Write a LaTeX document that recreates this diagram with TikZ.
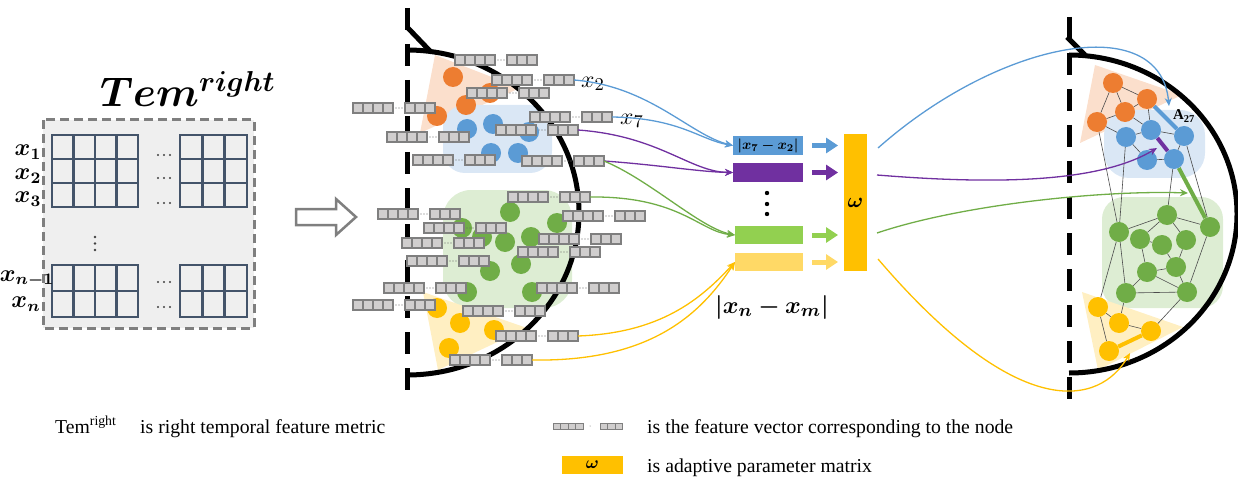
\documentclass[tikz,border=0pt]{standalone}
\usepackage{amsmath}
\usepackage{bm}
\usepackage{fontspec}
\setmainfont{Liberation Serif}
\usetikzlibrary{arrows.meta,calc}
\definecolor{cOr}{HTML}{ED7D31}
\definecolor{cOrL}{HTML}{FBDFCC}
\definecolor{cBl}{HTML}{5B9BD5}
\definecolor{cBlL}{HTML}{DAE7F5}
\definecolor{cGr}{HTML}{70AD47}
\definecolor{cGrL}{HTML}{DDEDD3}
\definecolor{cYe}{HTML}{FFC000}
\definecolor{cYeL}{HTML}{FFEFC2}
\definecolor{cPu}{HTML}{7030A0}
\definecolor{cGrB}{HTML}{92D050}
\definecolor{cYeB}{HTML}{FFD966}
\definecolor{cGrid}{HTML}{44546A}
\definecolor{cBox}{HTML}{EFEFEF}
\definecolor{cSq}{HTML}{D0CECE}
\definecolor{cSqB}{HTML}{7F7F7F}
\newcommand\fv[3]{%
  \foreach \kk in {0,1,2,3} {\filldraw[fvsq] ({#2+\kk*10},{#3-5}) rectangle ++(10,10);}
  \foreach \kk in {0,1,2} {\filldraw[fvsq] ({#2+52+\kk*10},{#3-5}) rectangle ++(10,10);}
  \foreach \kk in {43,46,49} {\fill[black!60] ({#2+\kk},#3) circle[radius=0.7pt];}
  \node[fvbox] (#1) at ({#2+41},#3) {};
}
\newcommand\mgrid[6]{%
  \foreach \ci in {0,...,#3} {\draw[gridl] ({#1+\ci*#5},#2) -- ++(0,{#4*#6});}
  \foreach \ri in {0,...,#4} {\draw[gridl] (#1,{#2+\ri*#6}) -- ++({#3*#5},0);}
}
\begin{document}
\begin{tikzpicture}[x=1pt,y=-1pt,
  fvsq/.style={fill=cSq,draw=cSqB,line width=1.1pt},
  fvbox/.style={minimum width=82pt,minimum height=10pt,inner sep=0pt,outer sep=0pt},
  gridl/.style={draw=cGrid,line width=2.8pt,line cap=rect},
  mdot/.style={circle,minimum size=20pt,inner sep=0pt,fill=#1},
  bar/.style={minimum width=70pt,minimum height=19pt,inner sep=0pt,outer sep=0pt},
  conn/.style={line width=1.3pt,-{Stealth[length=8pt,width=7pt]}},
  fat/.style={line width=5pt,-{Triangle[length=12pt,width=15pt]},shorten <=9pt,shorten >=6pt},
  dashv/.style={line width=5pt,dash pattern=on 22pt off 14pt},
  bound/.style={line width=5pt},
  edge/.style={draw=black!70,line width=0.6pt},
  tedge/.style={line width=4pt},
  xlab/.style={scale=2,font=\fontsize{11.5}{12}\selectfont},
  legend/.style={font=\fontsize{19.7}{22}\selectfont,anchor=base west,inner sep=0pt}
]
\useasboundingbox (0,0) rectangle (1238,481);

% ---------- left: matrix ----------
\node[scale=2] (tem) at (188,89) {\fontsize{19.5}{20}\selectfont$\bm{Tem^{right}}$};
\draw[fill=cBox,draw=cSqB,line width=3pt,dash pattern=on 9pt off 5pt] (43,120) rectangle (254,328);
\mgrid{52}{135}{4}{3}{21.5}{24}
\mgrid{180}{135}{3}{3}{22.33}{24}
\mgrid{52}{265}{4}{2}{21.5}{26}
\mgrid{180}{265}{3}{2}{22.33}{26}
\foreach \yy in {155,178,203,282,307} {\foreach \xx in {158,164,170} {\fill[black!75] (\xx,\yy) circle[radius=1.1pt];}}
\foreach \yy in {237,243.5,250} {\fill[black!75] (95,\yy) circle[radius=1.4pt];}
\node[xlab] (lx1) at (28,152) {$\bm{x_1}$};
\node[xlab] (lx2m) at (28,176) {$\bm{x_2}$};
\node[xlab] (lx3) at (28,199) {$\bm{x_3}$};
\node[xlab] (lxn1) at (27,279) {$\bm{x_{n-1}}$};
\node[xlab] (lxn) at (26,304) {$\bm{x_n}$};

% hollow arrow
\draw[draw=cSqB,fill=white,line width=2.5pt,line join=miter]
  (296,209) -- (336,209) -- (336,199) -- (356,217) -- (336,235) -- (336,225) -- (296,225) -- cycle;

% ---------- middle semicircle ----------
\draw[dashv] (407,8) -- (407,393);
\draw[bound] (407,27) -- (430,51);
\fill[cOrL] (435,55) -- (420,133) -- (520,88) -- cycle;
\fill[cBlL,rounded corners=22pt] (443,105) rectangle (552,173);
\fill[cGrL,rounded corners=28pt] (443,190) rectangle (572,308);
\fill[cYeL] (423,292) -- (438,370) -- (527,328) -- cycle;
\draw[bound] (407,50) arc[start angle=-90,end angle=90,x radius=172,y radius=162.5];

\foreach \xx/\yy [count=\n] in {453/77,490/93,466/105,437/116} {\node[mdot=cOr] (mo\n) at (\xx,\yy) {};}
\foreach \xx/\yy [count=\n] in {467/129,493/124,529/132,491/153,518/153} {\node[mdot=cBl] (mb\n) at (\xx,\yy) {};}
\foreach \xx/\yy [count=\n] in {510/212,557/223,462/228,482/237,505/242,531/237,521/264,490/271,467/292,532/292} {\node[mdot=cGr] (mg\n) at (\xx,\yy) {};}
\foreach \xx/\yy [count=\n] in {437/308,460/323,494/330,449/348} {\node[mdot=cYe] (my\n) at (\xx,\yy) {};}

\fv{v1}{455}{60}
\fv{v2}{492}{80}
\fv{v3}{467}{93}
\fv{v4}{353}{108}
\fv{v5}{530}{117}
\fv{v6}{496}{130}
\fv{v7}{387}{137}
\fv{v8}{413}{160}
\fv{v9}{522}{161}
\fv{v10}{508}{197}
\fv{v12}{378}{214}
\fv{v13}{563}{216}
\fv{v14}{424}{228}
\fv{v15}{402}{243}
\fv{v16}{539}{239}
\fv{v17}{518}{252}
\fv{v18}{407}{261}
\fv{v19}{384}{288}
\fv{v20}{537}{288}
\fv{v21}{353}{305}
\fv{v22}{463}{311}
\fv{v23}{496}{336}
\fv{v24}{450}{360}

% ---------- bars ----------
\node[bar,fill=cBl] (bblue) at (768,145.5) {\scalebox{1.3}{\fontsize{11}{12}\selectfont$\bm{|x_7-x_2|}$}};
\node[bar,fill=cPu] (bpur) at (768,172.5) {};
\node[bar,fill=cGrB,minimum width=68pt,minimum height=18pt] (bgreen) at (769,235) {};
\node[bar,fill=cYeB,minimum width=68pt,minimum height=18pt] (byel) at (769,262) {};
\node[bar,fill=cYe,minimum width=23pt,minimum height=137pt] (omega) at (855.5,202.5) {\fontsize{22}{22}\selectfont$\bm{\omega}$};
\foreach \yy in {193,204,214} {\fill (767,\yy) circle[radius=2.2pt];}
\node[scale=2] (xnm) at (772,307) {\fontsize{13}{13}\selectfont$\bm{|x_n-x_m|}$};
\node[scale=2] (lx2) at (593,84) {\fontsize{13}{13}\selectfont$x_2$};
\node[scale=2] (lx7) at (632,121) {\fontsize{13}{13}\selectfont$x_7$};

\draw[conn,cBl] (v2.east) .. controls (650,86) and (690,135) .. (bblue.west);
\draw[conn,cBl] (v5.east) .. controls (680,118) and (700,140) .. (bblue.west);
\draw[conn,cPu] (v6.east) .. controls (660,136) and (690,172) .. (bpur.west);
\draw[conn,cPu] (v9.east) .. controls (660,165) and (700,172) .. (bpur.west);
\draw[conn,cGr] (v9.east) .. controls (650,180) and (700,228) .. (bgreen.west);
\draw[conn,cGr] (v10.east) .. controls (680,196) and (700,232) .. (bgreen.west);
\draw[conn,cYe] (v23.east) .. controls (660,333) and (700,300) .. (byel.west);
\draw[conn,cYe] (v24.east) .. controls (650,362) and (700,315) .. (byel.west);

\draw[fat,cBl] (bblue.east) -- (omega.west |- bblue.east);
\draw[fat,cPu] (bpur.east) -- (omega.west |- bpur.east);
\draw[fat,cGrB] (bgreen.east) -- (omega.west |- bgreen.east);
\draw[fat,cYeB] (byel.east) -- (omega.west |- byel.east);

% ---------- right semicircle ----------
\draw[dashv] (1069,17) -- (1069,400);
\draw[bound] (1067,37) -- (1085,55);
\fill[cOrL] (1095,65) -- (1080,143) -- (1182,95) -- cycle;
\fill[cBlL,rounded corners=25pt] (1104,110) rectangle (1205,178);
\fill[cGrL,rounded corners=22pt] (1102,197) rectangle (1223,308);
\fill[cYeL] (1082,292) -- (1098,370) -- (1183,327) -- cycle;
\draw[bound] (1069,55) arc[start angle=-90,end angle=90,x radius=168,y radius=159];

\node[mdot=cOr] (o1) at (1113,83) {};
\node[mdot=cOr] (o2) at (1147,99) {};
\node[mdot=cOr] (o3) at (1125,112) {};
\node[mdot=cOr] (o4) at (1097,122) {};
\node[mdot=cBl] (b1) at (1126,137) {};
\node[mdot=cBl] (b2) at (1151,130) {};
\node[mdot=cBl] (b3) at (1184,136) {};
\node[mdot=cBl] (b4) at (1147,160) {};
\node[mdot=cBl] (b5) at (1174,159) {};
\node[mdot=cGr] (g1) at (1167,215) {};
\node[mdot=cGr] (g2) at (1210,227) {};
\node[mdot=cGr] (g3) at (1119,232) {};
\node[mdot=cGr] (g4) at (1140,239) {};
\node[mdot=cGr] (g5) at (1162,245) {};
\node[mdot=cGr] (g6) at (1186,240) {};
\node[mdot=cGr] (g7) at (1176,267) {};
\node[mdot=cGr] (g8) at (1147,272) {};
\node[mdot=cGr] (g9) at (1126,293) {};
\node[mdot=cGr] (g10) at (1187,292) {};
\node[mdot=cYe] (y1) at (1098,307) {};
\node[mdot=cYe] (y2) at (1119,323) {};
\node[mdot=cYe] (y3) at (1151,331) {};
\node[mdot=cYe] (y4) at (1109,351) {};

\foreach \a/\b in {o1/o2,o1/o4,o1/o3,o2/o3,o3/o4,o4/b1,o3/b2,o2/b2,b1/b2,b2/b3,b1/b4,b4/b5,b3/b5,
  o4/g3,b1/g3,b5/g1,b3/g2,g3/g1,g1/g2,g1/g4,g4/g8,g1/g6,g6/g7,g7/g8,g8/g9,g9/g10,g10/g2,g7/g10,
  g3/g9,g8/g10,g3/y1,g9/y2,y1/y2,y1/y4,y2/y3,g10/y3,g4/g5,g5/g7}
  {\draw[edge] (\a) -- (\b);}
\draw[tedge,cBl] (o2) -- (b3);
\draw[tedge,cPu] (b2) -- (b5);
\draw[tedge,cGr] (b5) -- (g2);
\draw[tedge,cYe] (y4) -- (y3);
\node (a27) at (1184,116) {\fontsize{15}{15}\selectfont$\mathbf{A}_{\mathbf{27}}$};

\coordinate (oB) at (878,148);
\coordinate (oP) at (877,175);
\coordinate (oG) at (877,233);
\coordinate (oY) at (878,259);
\coordinate (tB) at (1169,106);
\coordinate (tP) at (1157,148);
\coordinate (tG) at (1188,193);
\coordinate (tY) at (1130,353);
\draw[conn,cBl] (oB) .. controls (1000,40) and (1160,10) .. (tB);
\draw[conn,cPu] (oP) .. controls (1000,185) and (1100,182) .. (tP);
\draw[conn,cGr] (oG) .. controls (960,205) and (1100,190) .. (tG);
\draw[conn,cYe] (oY) .. controls (1020,425) and (1100,405) .. (tY);

% ---------- legend ----------
\node[legend] (lg1a) at (55,433) {Tem\textsuperscript{right}};
\node[legend] (lg1b) at (140,433) {is right temporal feature metric};
\foreach \kk in {0,1,2,3} {\filldraw[fill=cSq,draw=cSqB,line width=0.8pt] ({553+\kk*7.5},423) rectangle ++(7.5,6);}
\foreach \kk in {0,1,2} {\filldraw[fill=cSq,draw=cSqB,line width=0.8pt] ({600+\kk*7.5},423) rectangle ++(7.5,6);}
\fill[black!60] (590,426) circle[radius=0.5pt];
\node[legend] (lg2) at (647,433) {is the feature vector corresponding to the node};
\node[fill=cYe,minimum width=61pt,minimum height=18pt,inner sep=0pt] (lgw) at (592.5,465) {\fontsize{16}{16}\selectfont$\bm{\omega}$};
\node[legend] (lg3) at (647,472) {is adaptive parameter matrix};
\end{tikzpicture}
\end{document}
